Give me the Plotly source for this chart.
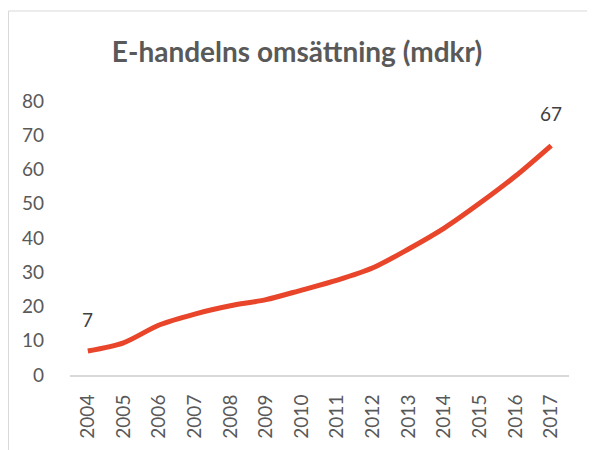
import plotly.graph_objects as go

# --- データ ---
years = [str(y) for y in range(2004, 2018)]
omsattning = [7, 9.4, 14.6, 17.8, 20.2, 22.0, 24.8, 27.7, 31.3, 36.8, 42.9, 50.2, 58.1, 67]
labels = {"2004": "7", "2017": "67"}

TEXT = "#595959"
FONT = "Lato, 'Open Sans', sans-serif"

# --- 配置 (sidan har 8 px marginal runt diagrammet) ---
M_L, M_T, PLOT_W, PLOT_H = 62, 93, 499, 274

fig = go.Figure()

fig.add_trace(
    go.Scatter(
        x=years,
        y=omsattning,
        mode="lines",
        line={"color": "#E8452A", "width": 5, "shape": "spline", "smoothing": 0.8},
        hoverinfo="x+y",
    )
)

# datavärden vid första och sista punkten (x som kategoriindex)
for yr, txt in labels.items():
    i = years.index(yr)
    fig.add_annotation(
        x=i,
        y=omsattning[i],
        text=txt,
        showarrow=False,
        yshift=32,
        font={"size": 19, "color": "#404040", "family": FONT},
    )

# ram runt diagrammet
fig.add_shape(
    type="rect",
    xref="paper",
    yref="paper",
    x0=(0.5 - M_L) / PLOT_W,
    x1=1.3,
    y0=-0.6,
    y1=(M_T + PLOT_H - 3) / PLOT_H,
    line={"color": "#D9D9D9", "width": 1},
    fillcolor="rgba(0,0,0,0)",
    layer="below",
)

fig.update_layout(
    width=595,
    height=450,
    margin={"l": M_L, "r": 595 - M_L - PLOT_W, "t": M_T, "b": 450 - M_T - PLOT_H},
    paper_bgcolor="white",
    plot_bgcolor="white",
    showlegend=False,
    title={
        "text": "<b>E-handelns omsättning (mdkr)</b>",
        "x": (297 - 8) / 595,
        "xanchor": "center",
        "y": 1 - 44 / 450,
        "yanchor": "middle",
        "font": {"size": 28, "color": TEXT, "family": FONT},
    },
    font={"family": FONT, "color": TEXT},
)

fig.update_xaxes(
    type="category",
    range=[-0.5, len(years) - 0.5],
    tickangle=-90,
    showgrid=False,
    showline=True,
    linecolor="#D9D9D9",
    linewidth=2,
    ticks="",
    ticklabelstandoff=10,
    tickfont={"size": 19, "color": TEXT},
    zeroline=False,
    automargin=False,
)

fig.update_yaxes(
    range=[0, 80],
    dtick=10,
    showgrid=False,
    showline=False,
    zeroline=False,
    ticks="",
    ticklabelstandoff=25,
    tickfont={"size": 19, "color": TEXT},
    automargin=False,
)

fig.write_html("out.html")
